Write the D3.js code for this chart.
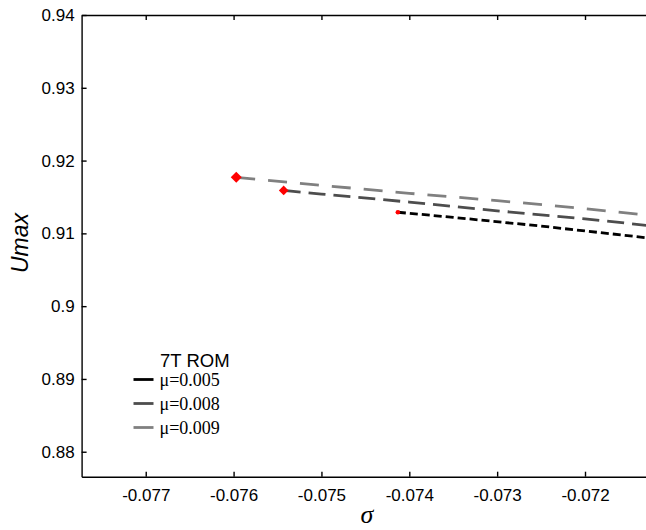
<!DOCTYPE html>
<html>
<head>
  <meta charset="utf-8">
  <title>Umax vs sigma</title>
  <script src="https://d3js.org/d3.v7.min.js"></script>
<style>
  body { margin: 0; background: #fff; }
  .axis text { font-family: "Liberation Sans", Arial, sans-serif; font-size: 17px; fill: #000; }
  .axis path, .axis line { stroke: #000; stroke-width: 1.4px; }
</style>
</head>
<body>
<div id="chart"></div>
<script>
// data
var sig005 = [-0.07413, -0.0735, -0.0725, -0.0713];
var u005   = [0.9129, 0.9122, 0.9110, 0.9094];

var sig008 = [-0.07543, -0.0750, -0.0740, -0.0730, -0.0720, -0.0713];
var u008   = [0.9159, 0.9154, 0.9143, 0.9131, 0.9120, 0.9111];

var sig009 = [-0.07597, -0.0750, -0.0740, -0.0730, -0.0720, -0.0713];
var u009   = [0.9177, 0.9166, 0.9155, 0.9145, 0.9134, 0.9125];

var xTicks = [-0.077, -0.076, -0.075, -0.074, -0.073, -0.072];
var yTicks = [0.88, 0.89, 0.90, 0.91, 0.92, 0.93, 0.94];
var legendLabels = ["\u03bc=0.005", "\u03bc=0.008", "\u03bc=0.009"];

var W = 646, H = 530;
var svg = d3.select("#chart").append("svg")
  .attr("width", W).attr("height", H);

var x = d3.scaleLinear().domain([-0.07773, -0.07130]).range([81.6, 646.5]);
var y = d3.scaleLinear().domain([0.87657, 0.94]).range([476.7, 15]);

svg.append("defs").append("clipPath").attr("id", "clip")
  .append("rect").attr("x", 81.6).attr("y", 15).attr("width", 570).attr("height", 461.7);

// axes, ticks pointing inward
svg.append("g").attr("class", "axis")
  .attr("transform", "translate(0,476.7)")
  .call(d3.axisBottom(x).tickValues(xTicks).tickSizeInner(-5).tickSizeOuter(0).tickPadding(12)
    .tickFormat(function(d) { return d3.format(".3f")(d).replace("\u2212", "-"); }));

svg.append("g").attr("class", "axis")
  .attr("transform", "translate(0,15)")
  .call(d3.axisTop(x).tickValues(xTicks).tickSizeInner(-5).tickSizeOuter(0).tickFormat(""));

svg.append("g").attr("class", "axis")
  .attr("transform", "translate(81.6,0)")
  .call(d3.axisLeft(y).tickValues(yTicks).tickSizeInner(-5).tickSizeOuter(0).tickPadding(7)
    .tickFormat(function(d) { return d === 0.9 ? "0.9" : d3.format(".2f")(d); }));

// series
var series = [
  {s: sig005, u: u005, color: "#000000", dash: "8,4", marker: "dot", size: 2.3},
  {s: sig008, u: u008, color: "#4d4d4d", dash: "17,8", marker: "diamond", size: 4.8},
  {s: sig009, u: u009, color: "#808080", dash: "19,13", marker: "diamond", size: 5.5}
];

var line = d3.line()
  .x(function(d) { return x(d[0]); })
  .y(function(d) { return y(d[1]); });

var plot = svg.append("g").attr("clip-path", "url(#clip)");

series.forEach(function(sr) {
  var pts = sr.s.map(function(v, i) { return [v, sr.u[i]]; });
  plot.append("path")
    .datum(pts)
    .attr("d", line)
    .attr("fill", "none")
    .attr("stroke", sr.color)
    .attr("stroke-width", 2.8)
    .attr("stroke-dasharray", sr.dash);
});

// start markers
series.forEach(function(sr) {
  var cx = x(sr.s[0]), cy = y(sr.u[0]), r = sr.size;
  if (sr.marker === "dot") {
    svg.append("circle").attr("cx", cx).attr("cy", cy).attr("r", r).attr("fill", "red");
  } else {
    svg.append("path")
      .attr("d", "M" + cx + "," + (cy - r) + "L" + (cx + r) + "," + cy + "L" + cx + "," + (cy + r) + "L" + (cx - r) + "," + cy + "Z")
      .attr("fill", "red");
  }
});

// legend
var lg = svg.append("g");
lg.append("text").attr("x", 160).attr("y", 367)
  .style("font-family", "'Liberation Sans', Arial, sans-serif").style("font-size", "18.5px")
  .text("7T ROM");
series.forEach(function(sr, i) {
  var ly = 379.5 + i * 24;
  lg.append("line").attr("x1", 133.5).attr("x2", 153.5).attr("y1", ly).attr("y2", ly)
    .attr("stroke", sr.color).attr("stroke-width", 2.8);
  lg.append("text").attr("x", 159.5).attr("y", ly + 6)
    .style("font-family", "'Liberation Serif', 'Times New Roman', serif").style("font-size", "18px")
    .text(legendLabels[i]);
});

// axis titles
svg.append("text")
  .attr("transform", "translate(28,243) rotate(-90)")
  .attr("text-anchor", "middle")
  .style("font-family", "'Liberation Sans', Arial, sans-serif").style("font-size", "23px").style("font-style", "italic")
  .text("Umax");

svg.append("text")
  .attr("x", 367).attr("y", 523)
  .attr("text-anchor", "middle")
  .style("font-family", "'Liberation Serif', 'Times New Roman', serif").style("font-size", "26px").style("font-style", "italic")
  .text("\u03c3");
</script>
</body>
</html>
